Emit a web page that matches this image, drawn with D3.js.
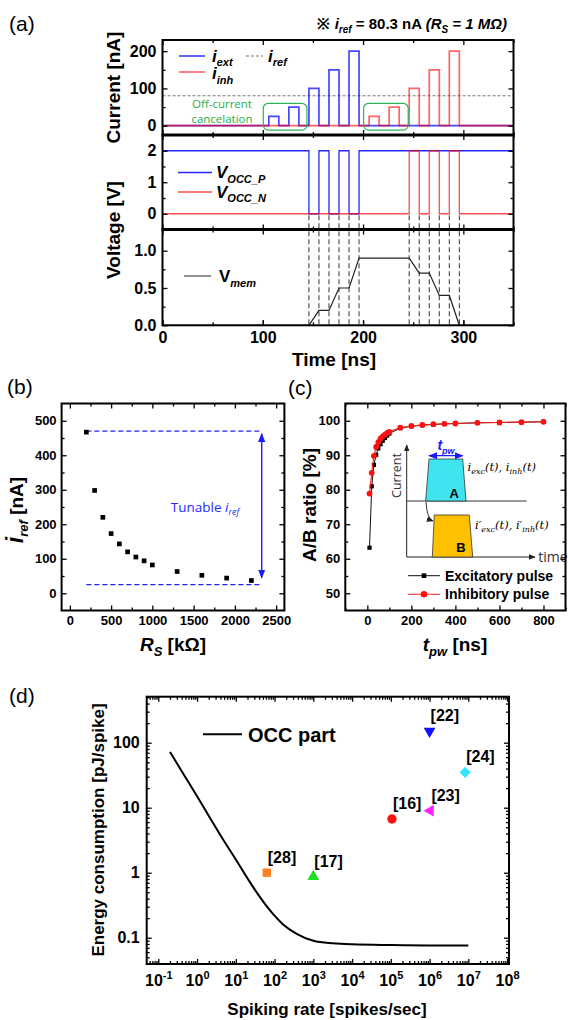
<!DOCTYPE html>
<html>
<head>
<meta charset="utf-8">
<script src="https://cdn.jsdelivr.net/npm/d3@7"></script>
<style>
  body { margin: 0; background: #fff; }
  svg { display: block; font-family: "Liberation Sans", Arial, sans-serif; }
</style>
</head>
<body>
<svg width="568" height="1020"></svg>
<script>
"use strict";

// ---- (a) pulse train, time in ns ----
var tMax = 350;
var excStart = [106, 126, 146, 166, 186],
    excAmp = [25, 50, 100, 150, 200];
var inhStart = [206, 226, 246, 266, 286],
    inhAmp = [25, 50, 100, 150, 200];
var pulseW = 10;
var iref = 80.3;
var occPLow = [146, 166, 186];     // V_OCC_P pulled to 0
var occNHigh = [246, 266, 286];    // V_OCC_N pushed to 2
var vmemT = [0, 146, 156, 166, 176, 186, 196, 246, 256, 266, 276, 286, 296, 350],
    vmemV = [0, 0, 0.2, 0.2, 0.5, 0.5, 0.9, 0.9, 0.7, 0.7, 0.4, 0.4, 0, 0];
var guideT = [146, 156, 166, 176, 186, 196, 246, 256, 266, 276, 286, 296];
var offBoxT = [[100.5, 144], [200.5, 245]];

// ---- (b) iref vs Rs ----
var rs = [200, 300, 400, 500, 600, 700, 800, 900, 1000, 1300, 1600, 1900, 2200],
    irefVals = [467, 298, 220, 173, 143, 120, 105, 94, 82, 63, 52, 44, 37];
var tunableRange = [25, 470];

// ---- (c) A/B ratio vs pulse width ----
var tpw = [10, 20, 30, 40, 50, 60, 70, 80, 90, 100, 150, 200, 250, 300, 350, 400, 500, 600, 700, 800];
var excRatio = [63.2, 81.0, 87.2, 90.1, 92.0, 93.2, 94.2, 95.0, 95.7, 96.3, 97.9, 98.4, 98.7, 98.9, 99.1, 99.2, 99.4, 99.5, 99.6, 99.7];
var inhRatio = [78.9, 84.9, 89.8, 92.4, 93.8, 94.8, 95.5, 96.0, 96.5, 96.8, 98.0, 98.5, 98.8, 99.0, 99.1, 99.2, 99.4, 99.5, 99.6, 99.7];

// ---- (d) energy per spike ----
var occRate = [0.2, 0.5, 1, 2, 5, 10, 20, 42, 92, 166, 372, 1000, 3200, 1e4, 1e5, 1e6, 1e7],
    occEnergy = [72, 29.5, 15, 7.5, 3.05, 1.6, 0.82, 0.42, 0.23, 0.16, 0.115, 0.09, 0.082, 0.079, 0.077, 0.076, 0.076];
var refs = ["[22]", "[24]", "[23]", "[16]", "[28]", "[17]"],
    refRate = [1e6, 8.3e6, 1.05e6, 1.07e5, 63, 1000],
    refEnergy = [150, 35, 9, 6.7, 1.0, 0.87];
var refColor = ["#1010ff", "#33e6ff", "#ff22ff", "#ff1010", "#ff8020", "#22dd22"];
var refShape = ["down", "diamond", "left", "circle", "square", "up"];

var svg = d3.select("svg");
var defs = svg.append("defs");

function arrowMarker(id, color, size) {
  defs.append("marker").attr("id", id)
    .attr("viewBox", "0 0 10 10").attr("refX", 9).attr("refY", 5)
    .attr("markerWidth", size).attr("markerHeight", size)
    .attr("markerUnits", "userSpaceOnUse").attr("orient", "auto-start-reverse")
    .append("path").attr("d", "M0,1L10,5L0,9z").attr("fill", color);
}
arrowMarker("arB", "#1a1aff", 9);
arrowMarker("arK", "#222", 7);

function addAxis(g, scale, orient, at, vals, len, o) {
  o = o || {};
  var mk = {left: d3.axisLeft, right: d3.axisRight, top: d3.axisTop, bottom: d3.axisBottom}[orient];
  var ax = mk(scale).tickValues(vals).tickSize(-len).tickPadding(o.pad || 5)
    .tickFormat(o.fmt || function() { return ""; });
  var tr = (orient == "left" || orient == "right") ? "translate(" + at + ",0)" : "translate(0," + at + ")";
  var s = g.append("g").attr("transform", tr).call(ax);
  s.select(".domain").remove();
  s.attr("font-family", null).attr("font-size", o.fs || 13).attr("font-weight", "bold");
  s.selectAll(".tick line").attr("stroke", "#000").attr("stroke-width", 1.3);
  s.selectAll(".tick text").attr("fill", "#000");
  return s;
}

// text with italic / subscript runs
function rich(g, x, y, fs, parts, anchor) {
  var t = g.append("text").attr("x", x).attr("y", y)
    .attr("font-size", fs).attr("font-weight", "bold")
    .attr("text-anchor", anchor || "start");
  var shift = 0;
  parts.forEach(function(p) {
    var s = typeof p == "string" ? {t: p} : p;
    var off = s.sub ? fs * 0.28 : 0;
    var ts = t.append("tspan").attr("dy", off - shift).text(s.t);
    if (s.sub) ts.attr("font-size", Math.round(fs * 0.66));
    if (s.size) ts.attr("font-size", s.size);
    if (s.it) ts.attr("font-style", "italic");
    shift = off;
  });
  return t;
}

function frame(g, x0, x1, y0, y1, w) {
  g.append("rect").attr("x", x0).attr("y", y0)
    .attr("width", x1 - x0).attr("height", y1 - y0)
    .attr("fill", "none").attr("stroke", "#000").attr("stroke-width", w || 2);
}

function panelLabel(x, y, s) {
  svg.append("text").attr("x", x).attr("y", y).attr("font-size", 21).text(s);
}

// ================= (a) =================
var ga = svg.append("g");
var xa = d3.scaleLinear().domain([0, tMax]).range([162.5, 513.5]);
var yc = d3.scaleLinear().domain([-25, 230]).range([135, 40]);
var yv = d3.scaleLinear().domain([-0.5, 2.5]).range([229.5, 135]);
var ym = d3.scaleLinear().domain([0, 1.3]).range([325.3, 228.3]);

panelLabel(9, 31, "(a)");
rich(ga, 507, 29, 15, ["※ ", {t: "i", it: 1}, {t: "ref", it: 1, sub: 1}, " = " + iref + " nA ",
  {t: "(R", it: 1}, {t: "S", it: 1, sub: 1}, {t: " = 1 MΩ)", it: 1}], "end");

function pulseSeries(starts, amps, w) {
  var pts = [[0, 0]];
  starts.forEach(function(s, i) {
    pts.push([s, 0], [s, amps[i]], [s + w, amps[i]], [s + w, 0]);
  });
  pts.push([tMax, 0]);
  return pts;
}
function gateSeries(starts, base, level, w) {
  var pts = [[0, base]];
  starts.forEach(function(s) {
    pts.push([s, base], [s, level], [s + w, level], [s + w, base]);
  });
  pts.push([tMax, base]);
  return pts;
}

var lineC = d3.line().x(function(d) { return xa(d[0]); }).y(function(d) { return yc(d[1]); });
var lineV = d3.line().x(function(d) { return xa(d[0]); }).y(function(d) { return yv(d[1]); });

// iref level
ga.append("line").attr("x1", xa(0)).attr("x2", xa(tMax)).attr("y1", yc(iref)).attr("y2", yc(iref))
  .attr("stroke", "#777").attr("stroke-width", 1).attr("stroke-dasharray", "3,2");

ga.append("path").datum(pulseSeries(excStart, excAmp, pulseW)).attr("d", lineC)
  .attr("fill", "none").attr("stroke", "#0000ff").attr("stroke-opacity", 0.72).attr("stroke-width", 1.7);
ga.append("path").datum(pulseSeries(inhStart, inhAmp, pulseW)).attr("d", lineC)
  .attr("fill", "none").attr("stroke", "#ff0000").attr("stroke-opacity", 0.6).attr("stroke-width", 1.7);

// off-current cancelation boxes
offBoxT.forEach(function(b) {
  ga.append("rect").attr("x", xa(b[0])).attr("y", yc(60))
    .attr("width", xa(b[1]) - xa(b[0])).attr("height", yc(-12) - yc(60))
    .attr("rx", 5).attr("fill", "none").attr("stroke", "#2fb35a").attr("stroke-width", 1.2);
});
ga.append("text").attr("x", 222).attr("y", 107.5).attr("text-anchor", "middle")
  .attr("font-family", "Open Sans, sans-serif").attr("font-size", 11.5).attr("fill", "#22b04f").text("Off-current");
ga.append("text").attr("x", 222).attr("y", 123).attr("text-anchor", "middle")
  .attr("font-family", "Open Sans, sans-serif").attr("font-size", 11.5).attr("fill", "#22b04f").text("cancelation");

// current legend
ga.append("line").attr("x1", 179).attr("x2", 205).attr("y1", 56).attr("y2", 56)
  .attr("stroke", "#0000ff").attr("stroke-opacity", 0.72).attr("stroke-width", 1.7);
rich(ga, 212, 61.5, 17, [{t: "i", it: 1}, {t: "ext", it: 1, sub: 1}]);
ga.append("line").attr("x1", 246).attr("x2", 263).attr("y1", 56).attr("y2", 56)
  .attr("stroke", "#777").attr("stroke-width", 1.2).attr("stroke-dasharray", "3,2");
rich(ga, 268, 61.5, 17, [{t: "i", it: 1}, {t: "ref", it: 1, sub: 1}]);
ga.append("line").attr("x1", 179).attr("x2", 205).attr("y1", 72).attr("y2", 72)
  .attr("stroke", "#ff0000").attr("stroke-opacity", 0.6).attr("stroke-width", 1.7);
rich(ga, 212, 79, 17, [{t: "i", it: 1}, {t: "inh", it: 1, sub: 1}]);

// voltage panel
ga.append("path").datum(gateSeries(occPLow, 2, 0, pulseW)).attr("d", lineV)
  .attr("fill", "none").attr("stroke", "#0000ff").attr("stroke-opacity", 0.85).attr("stroke-width", 1.3);
ga.append("path").datum(gateSeries(occNHigh, 0, 2, pulseW)).attr("d", lineV)
  .attr("fill", "none").attr("stroke", "#ff0000").attr("stroke-opacity", 0.7).attr("stroke-width", 1.3);
ga.append("line").attr("x1", 178).attr("x2", 212).attr("y1", 172.5).attr("y2", 172.5)
  .attr("stroke", "#0000ff").attr("stroke-opacity", 0.85).attr("stroke-width", 1.3);
rich(ga, 216, 178, 17, [{t: "V", it: 1}, {t: "OCC_P", it: 1, sub: 1}]);
ga.append("line").attr("x1", 178).attr("x2", 212).attr("y1", 192).attr("y2", 192)
  .attr("stroke", "#ff0000").attr("stroke-opacity", 0.7).attr("stroke-width", 1.3);
rich(ga, 216, 197.5, 17, [{t: "V", it: 1}, {t: "OCC_N", it: 1, sub: 1}]);

// guide lines between the gate edges and Vmem
guideT.forEach(function(t) {
  ga.append("line").attr("x1", xa(t)).attr("x2", xa(t)).attr("y1", yv(0) + 1.5).attr("y2", ym(0))
    .attr("stroke", "#333").attr("stroke-width", 1).attr("stroke-dasharray", "5,3");
});

// membrane voltage
ga.append("path").datum(vmemT.map(function(t, i) { return [t, vmemV[i]]; }))
  .attr("d", d3.line().x(function(d) { return xa(d[0]); }).y(function(d) { return ym(d[1]); }))
  .attr("fill", "none").attr("stroke", "#222").attr("stroke-width", 1.2);
ga.append("line").attr("x1", 184).attr("x2", 211).attr("y1", 276).attr("y2", 276)
  .attr("stroke", "#555").attr("stroke-width", 1.3);
rich(ga, 219, 282, 17, ["V", {t: "mem", it: 1, sub: 1}]);

// axes of (a)
var tMajor = [0, 100, 200, 300], tMinor = [50, 150, 250, 350];
[[40, 135], [135, 229.5], [229.5, 325.3]].forEach(function(p) {
  addAxis(ga, xa, "top", p[0], tMajor, 5);
  addAxis(ga, xa, "top", p[0], tMinor, 3);
  addAxis(ga, xa, "bottom", p[1], tMajor, 5);
  addAxis(ga, xa, "bottom", p[1], tMinor, 3);
});
addAxis(ga, xa, "bottom", 325.3, tMajor, 5, {fmt: d3.format("d"), fs: 16, pad: 6});
addAxis(ga, yc, "left", xa(0), [0, 100, 200], 5, {fmt: d3.format("d"), fs: 16, pad: 6});
addAxis(ga, yc, "left", xa(0), [50, 150], 3);
addAxis(ga, yc, "right", xa(tMax), [0, 100, 200], 5);
addAxis(ga, yc, "right", xa(tMax), [50, 150], 3);
addAxis(ga, yv, "left", xa(0), [0, 1, 2], 5, {fmt: d3.format("d"), fs: 16, pad: 6});
addAxis(ga, yv, "left", xa(0), [0.5, 1.5], 3);
addAxis(ga, yv, "right", xa(tMax), [0, 1, 2], 5);
addAxis(ga, yv, "right", xa(tMax), [0.5, 1.5], 3);
addAxis(ga, ym, "left", xa(0), [0, 0.5, 1.0], 5, {fmt: d3.format(".1f"), fs: 16, pad: 6});
addAxis(ga, ym, "left", xa(0), [0.25, 0.75], 3);
addAxis(ga, ym, "right", xa(tMax), [0, 0.5, 1.0], 5);
addAxis(ga, ym, "right", xa(tMax), [0.25, 0.75], 3);

frame(ga, xa(0), xa(tMax), 40, 325.3, 2);
[135, 229.5].forEach(function(y) {
  ga.append("line").attr("x1", xa(0) - 1).attr("x2", xa(tMax) + 1).attr("y1", y).attr("y2", y)
    .attr("stroke", "#000").attr("stroke-width", 3);
});

rich(ga, 120, 87.5, 19, ["Current [nA]"], "middle").attr("transform", "rotate(-90,120,87.5)");
rich(ga, 120, 230, 19, ["Voltage [V]"], "middle").attr("transform", "rotate(-90,120,230)");
rich(ga, 334, 366, 19, ["Time [ns]"], "middle");

// ================= (b) =================
var gb = svg.append("g");
var xb = d3.scaleLinear().domain([-100, 2600]).range([61.6, 284.4]);
var yb = d3.scaleLinear().domain([-50, 550]).range([610.5, 403.5]);
panelLabel(7, 394, "(b)");

tunableRange.forEach(function(v) {
  gb.append("line").attr("x1", xb(200)).attr("x2", xb(2300)).attr("y1", yb(v)).attr("y2", yb(v))
    .attr("stroke", "#2222ff").attr("stroke-width", 1.2).attr("stroke-dasharray", "5,3");
});
gb.append("line").attr("x1", xb(2325)).attr("x2", xb(2325))
  .attr("y1", yb(tunableRange[1] - 8)).attr("y2", yb(tunableRange[0] + 20))
  .attr("stroke", "#2222ff").attr("stroke-width", 1.4)
  .attr("marker-start", "url(#arB)").attr("marker-end", "url(#arB)");
gb.append("text").attr("x", 205).attr("y", 512).attr("text-anchor", "middle")
  .attr("font-family", "Open Sans, sans-serif").attr("font-size", 13.5).attr("fill", "#2a2aff")
  .call(function(t) {
    t.append("tspan").text("Tunable ");
    t.append("tspan").attr("font-style", "italic").text("i");
    t.append("tspan").attr("font-style", "italic").attr("font-size", 9).attr("dy", 3).text("ref");
  });

gb.selectAll("path.pt").data(rs).enter().append("path").attr("class", "pt")
  .attr("d", d3.symbol().type(d3.symbolSquare).size(22))
  .attr("transform", function(d, i) { return "translate(" + xb(d) + "," + yb(irefVals[i]) + ")"; })
  .attr("fill", "#000");

addAxis(gb, xb, "bottom", 610.5, d3.range(0, 2501, 500), 5, {fmt: d3.format("d"), fs: 13, pad: 5.5});
addAxis(gb, xb, "bottom", 610.5, d3.range(250, 2501, 500), 3);
addAxis(gb, xb, "top", 403.5, d3.range(0, 2501, 500), 5);
addAxis(gb, xb, "top", 403.5, d3.range(250, 2501, 500), 3);
addAxis(gb, yb, "left", 61.6, d3.range(0, 501, 100), 5, {fmt: d3.format("d"), fs: 13, pad: 5});
addAxis(gb, yb, "left", 61.6, d3.range(50, 501, 100), 3);
addAxis(gb, yb, "right", 284.4, d3.range(0, 501, 100), 5);
addAxis(gb, yb, "right", 284.4, d3.range(50, 501, 100), 3);
frame(gb, 61.6, 284.4, 403.5, 610.5, 2);

rich(gb, 23, 510, 19, [{t: "i", it: 1, size: 23}, {t: "ref", it: 1, sub: 1}, " [nA]"], "middle")
  .attr("transform", "rotate(-90,23,510)");
rich(gb, 173, 651, 19, [{t: "R", it: 1}, {t: "S", it: 1, sub: 1}, " [kΩ]"], "middle");

// ================= (c) =================
var gc = svg.append("g");
var xc = d3.scaleLinear().domain([-100, 900]).range([345.3, 565.5]);
var ycr = d3.scaleLinear().domain([45, 105]).range([610.5, 403.5]);
panelLabel(288, 395, "(c)");

// schematic inset
var inset = gc.append("g");
inset.append("line").attr("x1", 406.7).attr("y1", 557).attr("x2", 406.7).attr("y2", 445)
  .attr("stroke", "#222").attr("stroke-width", 1).attr("marker-end", "url(#arK)");
inset.append("line").attr("x1", 406.7).attr("y1", 557).attr("x2", 535).attr("y2", 557)
  .attr("stroke", "#222").attr("stroke-width", 1).attr("marker-end", "url(#arK)");
inset.append("line").attr("x1", 406.7).attr("y1", 501).attr("x2", 526.7).attr("y2", 501)
  .attr("stroke", "#333").attr("stroke-width", 1);
inset.append("polygon").attr("points", "425.7,501 429,459 462.7,459 466,501")
  .attr("fill", "#3fe4ef").attr("stroke", "#333").attr("stroke-width", 0.8);
inset.append("polygon").attr("points", "432.3,557 434.3,515 469.3,515 472.7,557")
  .attr("fill", "#ffc000").attr("stroke", "#333").attr("stroke-width", 0.8);
inset.append("text").attr("x", 454.3).attr("y", 498).attr("text-anchor", "middle")
  .attr("font-size", 13).attr("font-weight", "bold").text("A");
inset.append("text").attr("x", 461).attr("y", 552).attr("text-anchor", "middle")
  .attr("font-size", 13).attr("font-weight", "bold").text("B");
inset.append("path").attr("d", "M426,502 Q427,519 433,521").attr("fill", "none")
  .attr("stroke", "#333").attr("stroke-width", 1).attr("marker-end", "url(#arK)");
inset.append("line").attr("x1", 429).attr("y1", 455.7).attr("x2", 462.7).attr("y2", 455.7)
  .attr("stroke", "#1a1aff").attr("stroke-width", 1.3)
  .attr("marker-start", "url(#arB)").attr("marker-end", "url(#arB)");
rich(inset, 446, 450, 14, [{t: "t", it: 1}, {t: "pw", it: 1, sub: 1}], "middle").attr("fill", "#1a1aff");
inset.append("text").attr("transform", "rotate(-90,401,475.5)").attr("x", 401).attr("y", 475.5)
  .attr("text-anchor", "middle").attr("font-family", "Open Sans, sans-serif").attr("font-size", 12.5)
  .attr("fill", "#333").text("Current");
inset.append("text").attr("x", 538.3).attr("y", 561.7).attr("font-family", "Open Sans, sans-serif")
  .attr("font-size", 14).attr("fill", "#333").text("time");
function mathLabel(x, y, prime) {
  var p = prime ? "′" : "";
  inset.append("text").attr("x", x).attr("y", y).attr("font-family", "DejaVu Serif, serif")
    .attr("font-style", "italic").attr("font-size", 11.5)
    .call(function(t) {
      t.append("tspan").text("i" + p);
      t.append("tspan").attr("font-size", 8).attr("dy", 3).text("exc");
      t.append("tspan").attr("dy", -3).text("(t), i" + p);
      t.append("tspan").attr("font-size", 8).attr("dy", 3).text("inh");
      t.append("tspan").attr("dy", -3).text("(t)");
    });
}
mathLabel(467.5, 470.5, false);
mathLabel(475, 528.5, true);

var lineExc = d3.line().x(function(d) { return xc(d); }).y(function(d, i) { return ycr(excRatio[i]); });
var lineInh = d3.line().x(function(d) { return xc(d); }).y(function(d, i) { return ycr(inhRatio[i]); });
gc.append("path").datum(tpw).attr("d", lineExc).attr("fill", "none").attr("stroke", "#111").attr("stroke-width", 1);
gc.selectAll("path.ex").data(tpw).enter().append("path").attr("class", "ex")
  .attr("d", d3.symbol().type(d3.symbolSquare).size(18))
  .attr("transform", function(d, i) { return "translate(" + xc(d) + "," + ycr(excRatio[i]) + ")"; })
  .attr("fill", "#000");
gc.append("path").datum(tpw).attr("d", lineInh).attr("fill", "none").attr("stroke", "#ff2020").attr("stroke-width", 1.1);
gc.selectAll("circle.ih").data(tpw).enter().append("circle").attr("class", "ih")
  .attr("cx", function(d) { return xc(d); }).attr("cy", function(d, i) { return ycr(inhRatio[i]); })
  .attr("r", 2.9).attr("fill", "#ff1010");

// legend (c)
gc.append("line").attr("x1", 408).attr("x2", 440).attr("y1", 575.7).attr("y2", 575.7).attr("stroke", "#111");
gc.append("path").attr("d", d3.symbol().type(d3.symbolSquare).size(22)).attr("transform", "translate(424,575.7)");
gc.append("text").attr("x", 445).attr("y", 580.7).attr("font-size", 14).attr("font-weight", "bold").text("Excitatory pulse");
gc.append("line").attr("x1", 408).attr("x2", 440).attr("y1", 594.3).attr("y2", 594.3).attr("stroke", "#ff2020");
gc.append("circle").attr("cx", 424).attr("cy", 594.3).attr("r", 3.3).attr("fill", "#ff1010");
gc.append("text").attr("x", 445).attr("y", 599.3).attr("font-size", 14).attr("font-weight", "bold").text("Inhibitory pulse");

addAxis(gc, xc, "bottom", 610.5, d3.range(0, 801, 200), 5, {fmt: d3.format("d"), fs: 13, pad: 5.5});
addAxis(gc, xc, "bottom", 610.5, d3.range(-100, 901, 200), 3);
addAxis(gc, xc, "top", 403.5, d3.range(0, 801, 200), 5);
addAxis(gc, xc, "top", 403.5, d3.range(-100, 901, 200), 3);
addAxis(gc, ycr, "left", 345.3, d3.range(50, 101, 10), 5, {fmt: d3.format("d"), fs: 13, pad: 5});
addAxis(gc, ycr, "left", 345.3, d3.range(55, 101, 10), 3);
addAxis(gc, ycr, "right", 565.5, d3.range(50, 101, 10), 5);
addAxis(gc, ycr, "right", 565.5, d3.range(55, 101, 10), 3);
frame(gc, 345.3, 565.5, 403.5, 610.5, 2);

rich(gc, 316, 505, 19, ["A/B ratio [%]"], "middle").attr("transform", "rotate(-90,316,505)");
rich(gc, 455, 651, 19, [{t: "t", it: 1}, {t: "pw", it: 1, sub: 1}, " [ns]"], "middle");

// ================= (d) =================
var gd = svg.append("g");
var xd = d3.scaleLog().domain([Math.pow(10, -1.3), Math.pow(10, 8.05)]).range([146.7, 509]);
var yd = d3.scaleLog().domain([0.0394, 510]).range([964, 696.7]);
panelLabel(9, 703, "(d)");

gd.append("path").datum(occRate)
  .attr("d", d3.line().curve(d3.curveMonotoneX)
    .x(function(d) { return xd(d); }).y(function(d, i) { return yd(occEnergy[i]); }))
  .attr("fill", "none").attr("stroke", "#000").attr("stroke-width", 2);
gd.append("line").attr("x1", 203).attr("x2", 242).attr("y1", 734.3).attr("y2", 734.3)
  .attr("stroke", "#000").attr("stroke-width", 2);
gd.append("text").attr("x", 248).attr("y", 741.5).attr("font-size", 20).attr("font-weight", "bold").text("OCC part");

var symType = {down: d3.symbolTriangle, up: d3.symbolTriangle, left: d3.symbolTriangle,
  diamond: d3.symbolSquare, circle: d3.symbolCircle, square: d3.symbolSquare};
var symRot = {down: 180, up: 0, left: -90, diamond: 45, circle: 0, square: 0};
var symSize = {down: 60, up: 60, left: 60, diamond: 62, circle: 70, square: 70};
refs.forEach(function(r, i) {
  var px = xd(refRate[i]), py = yd(refEnergy[i]);
  gd.append("path").attr("d", d3.symbol().type(symType[refShape[i]]).size(symSize[refShape[i]]))
    .attr("transform", "translate(" + px + "," + py + ") rotate(" + symRot[refShape[i]] + ")")
    .attr("fill", refColor[i]);
  gd.append("text").attr("x", px + 1).attr("y", py - 10).attr("font-size", 16).attr("font-weight", "bold").text(r);
});

var decX = d3.range(-1, 9), decY = [-1, 0, 1, 2];
var minorX = [], minorY = [];
d3.range(-2, 9).forEach(function(e) {
  d3.range(2, 10).forEach(function(m) {
    var v = m * Math.pow(10, e);
    if (v > xd.domain()[0] && v < xd.domain()[1]) minorX.push(v);
    if (v > yd.domain()[0] && v < yd.domain()[1]) minorY.push(v);
  });
});
var majX = decX.map(function(e) { return Math.pow(10, e); }),
    majY = decY.map(function(e) { return Math.pow(10, e); });
var bx = addAxis(gd, xd, "bottom", 964, majX, 5, {fmt: function() { return ""; }, fs: 16, pad: 11});
bx.selectAll(".tick text").each(function(d) {
  var t = d3.select(this);
  t.append("tspan").text("10");
  t.append("tspan").attr("dy", -7).attr("font-size", 11).text(Math.round(Math.log10(d)));
});
addAxis(gd, xd, "bottom", 964, minorX, 3);
addAxis(gd, xd, "top", 696.7, majX, 5);
addAxis(gd, xd, "top", 696.7, minorX, 3);
addAxis(gd, yd, "left", 146.7, majY, 5, {fmt: function(d) { return d < 1 ? "0.1" : d3.format("d")(d); }, fs: 16, pad: 7});
addAxis(gd, yd, "left", 146.7, minorY, 3);
addAxis(gd, yd, "right", 509, majY, 5);
addAxis(gd, yd, "right", 509, minorY, 3);
frame(gd, 146.7, 509, 696.7, 964, 2);

rich(gd, 104, 830, 17, ["Energy consumption [pJ/spike]"], "middle").attr("transform", "rotate(-90,104,830)");
rich(gd, 327, 1015, 17, ["Spiking rate [spikes/sec]"], "middle");
</script>
</body>
</html>
